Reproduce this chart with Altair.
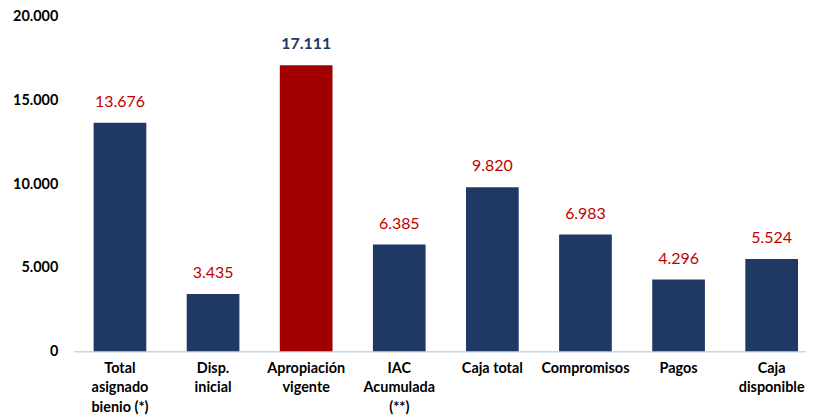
import altair as alt
import pandas as pd

categories = ["Total|asignado|bienio (*)", "Disp.|inicial", "Apropiación|vigente",
              "IAC|Acumulada|(**)", "Caja total", "Compromisos", "Pagos", "Caja|disponible"]
values = [13676, 3435, 17111, 6385, 9820, 6983, 4296, 5524]
highlight = [False, False, True, False, False, False, False, False]

df = pd.DataFrame({"cat": categories, "val": values, "hl": highlight})

FONT = "Lato"
NAVY = "#203864"
RED = "#a00000"

x = alt.X("cat:N", sort=categories, title=None,
          scale=alt.Scale(paddingInner=0.434, paddingOuter=0.15, align=0.714),
          axis=alt.Axis(labelAngle=0, labelExpr="split(datum.label, '|')",
                        labelFont=FONT, labelFontSize=14.5, labelFontWeight="bold",
                        labelColor="#000000", labelPadding=10, labelLineHeight=19.5,
                        ticks=False, domainColor="#c5d7ee", domainWidth=1.5))
y = alt.Y("val:Q", title=None,
          scale=alt.Scale(domain=[0, 20000]),
          axis=alt.Axis(values=[0, 5000, 10000, 15000, 20000],
                        labelExpr="replace(format(datum.value, ','), ',', '.')",
                        labelFont=FONT, labelFontSize=14.5, labelFontWeight="bold",
                        labelColor="#000000", labelPadding=16, grid=False,
                        ticks=False, domain=False))

base = alt.Chart(df).transform_calculate(lbl="replace(format(datum.val, ','), ',', '.')")

bars = base.mark_bar().encode(
    x=x, y=y,
    color=alt.Color("hl:N", scale=alt.Scale(domain=[False, True], range=[NAVY, RED]), legend=None),
)

labels_normal = base.transform_filter("!datum.hl").mark_text(
    baseline="bottom", dy=-13, font=FONT, fontSize=16, color="#c00000"
).encode(x=alt.X("cat:N", sort=categories), y=alt.Y("val:Q"), text=alt.Text("lbl:N"))

labels_hl = base.transform_filter("datum.hl").mark_text(
    baseline="bottom", dy=-13, font=FONT, fontSize=16, color=NAVY, fontWeight="bold"
).encode(x=alt.X("cat:N", sort=categories), y=alt.Y("val:Q"), text=alt.Text("lbl:N"))

chart = (bars + labels_normal + labels_hl).properties(
    width=736, height=336,
    background="#ffffff",
    autosize=alt.AutoSizeParams(type="none"),
    padding={"left": 66, "top": 8, "right": 0, "bottom": 68},
).configure_view(stroke=None)

chart.save("out.html", embed_options={"renderer": "svg", "actions": False})
